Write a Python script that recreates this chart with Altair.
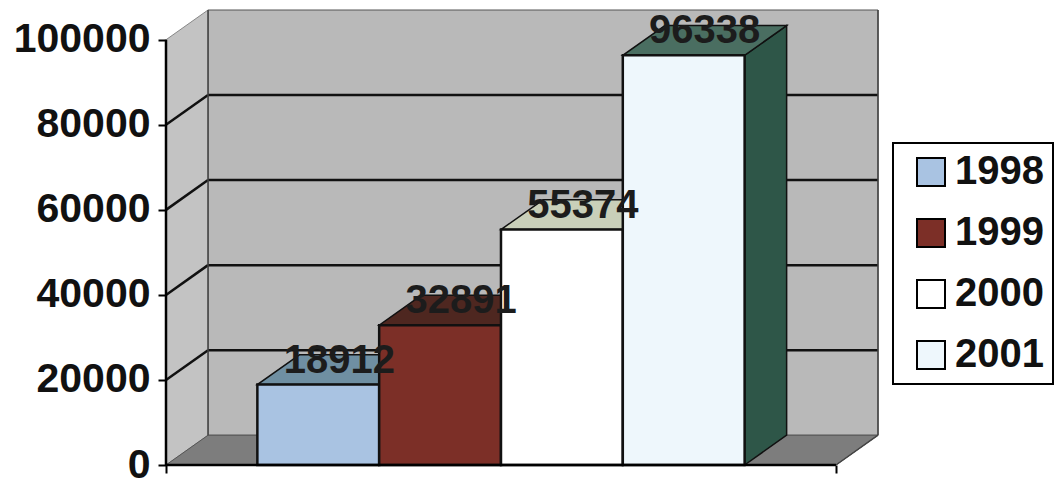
import altair as alt
import pandas as pd

# ---- data ----
years = ["1998", "1999", "2000", "2001"]
values = [18912, 32891, 55374, 96338]
y_ticks = [0, 20000, 40000, 60000, 80000, 100000]
grid_values = [20000, 40000, 60000, 80000]

# ---- palette ----
front_colors = ["#a9c3e2", "#7c2f27", "#ffffff", "#eef7fc"]
top_colors = ["#6f8fa2", "#4e2720", "#c9cfb9", "#4a6e61"]
side_colors = ["#5a7c90", "#5a2a22", "#bfc4ae", "#2e5648"]
WALL = "#b9b9b9"
SIDE_WALL = "#c3c3c3"
FLOOR_C = "#7d7d7d"
FONT = "Liberation Sans"

# ---- 3D geometry in data units ----
GAP = 0.75                      # half of Excel's 150% gap width
DX = 0.345                      # depth offset, x units
DY = 7000                       # depth offset, y units
FLOOR = 2 * GAP + len(years)
TOP = 100000

xs = alt.Scale(domain=[0, FLOOR + DX], nice=False, zero=False)
ys = alt.Scale(domain=[0, TOP + DY], nice=False, zero=False)
xaxis = alt.Axis(values=[0, FLOOR], labels=False, tickSize=8, tickWidth=2,
                 tickColor="black", domain=False, grid=False, title=None)
yaxis = alt.Axis(values=y_ticks, tickSize=8, tickWidth=2, tickColor="black",
                 domain=False, grid=False, title=None, labelFontSize=41,
                 labelFont=FONT, labelFontWeight="bold", labelColor="#111111",
                 labelPadding=8, format="d")

rows = []
for i, (yr, v) in enumerate(zip(years, values)):
    x0 = GAP + i
    x1 = x0 + 1
    rows.append(dict(year=yr, value=v, x0=x0, x1=x1, zero=0,
                     lx=(x0 + x1) / 2 + DX / 2, ly=v + DY / 2,
                     front=front_colors[i], top=top_colors[i], side=side_colors[i]))
bars = pd.DataFrame(rows)

side_rows, top_rows = [], []
for r in rows:
    side_rows += [dict(id=r["year"], c=r["side"], x=r["x1"], y=0, y2=r["value"]),
                  dict(id=r["year"], c=r["side"], x=r["x1"] + DX, y=DY, y2=r["value"] + DY)]
    top_rows += [dict(id=r["year"], c=r["top"], y=r["value"], x=r["x0"], x2=r["x1"]),
                 dict(id=r["year"], c=r["top"], y=r["value"] + DY, x=r["x0"] + DX, x2=r["x1"] + DX)]
sides = pd.DataFrame(side_rows)
tops = pd.DataFrame(top_rows)

left_wall = pd.DataFrame([dict(x=0, y=0, y2=TOP), dict(x=DX, y=DY, y2=TOP + DY)])
floor = pd.DataFrame([dict(y=0, x=0, x2=FLOOR), dict(y=DY, x=DX, x2=FLOOR + DX)])
back = pd.DataFrame([dict(x=DX, x2=FLOOR + DX, y=DY, y2=TOP + DY)])
grid = pd.DataFrame([dict(v=g, vb=g + DY, xl=0, xb=DX, xr=FLOOR + DX) for g in grid_values])
edges = pd.DataFrame([dict(x=DX, x2=DX, y=DY, y2=TOP + DY),
                      dict(x=FLOOR + DX, x2=FLOOR + DX, y=DY, y2=TOP + DY),
                      dict(x=FLOOR, x2=FLOOR + DX, y=0, y2=DY)])
axis_line = pd.DataFrame([dict(x=0, x2=0, y=0, y2=TOP), dict(x=0, x2=FLOOR, y=0, y2=0)])


def X(f):
    return alt.X(f, scale=xs, axis=xaxis, stack=None)


def Y(f):
    return alt.Y(f, scale=ys, axis=yaxis, stack=None)


back_l = alt.Chart(back).mark_rect(fill=WALL, stroke="#555555", strokeWidth=1).encode(
    x=X("x:Q"), x2="x2:Q", y=Y("y:Q"), y2="y2:Q")
left_l = alt.Chart(left_wall).mark_area(fill=SIDE_WALL, stroke="#888888", strokeWidth=1).encode(
    x=X("x:Q"), y=Y("y:Q"), y2="y2:Q")
floor_l = alt.Chart(floor).mark_area(orient="horizontal", fill=FLOOR_C, stroke="#555555",
                                     strokeWidth=1).encode(
    y=Y("y:Q"), x=X("x:Q"), x2="x2:Q")
grid_back = alt.Chart(grid).mark_rule(color="#111111", strokeWidth=2.5).encode(
    x=X("xb:Q"), x2="xr:Q", y=Y("vb:Q"), y2="vb:Q")
grid_left = alt.Chart(grid).mark_rule(color="#111111", strokeWidth=2.5).encode(
    x=X("xl:Q"), x2="xb:Q", y=Y("v:Q"), y2="vb:Q")
edge_l = alt.Chart(edges).mark_rule(color="#444444", strokeWidth=1.5).encode(
    x=X("x:Q"), x2="x2:Q", y=Y("y:Q"), y2="y2:Q")
side_l = alt.Chart(sides).mark_area(stroke="#111111", strokeWidth=1.5).encode(
    x=X("x:Q"), y=Y("y:Q"), y2="y2:Q", detail="id:N", fill=alt.Fill("c:N", scale=None))
top_l = alt.Chart(tops).mark_area(orient="horizontal", stroke="#111111", strokeWidth=1.5).encode(
    y=Y("y:Q"), x=X("x:Q"), x2="x2:Q", detail="id:N", fill=alt.Fill("c:N", scale=None))
front_l = alt.Chart(bars).mark_rect(stroke="#111111", strokeWidth=2.5).encode(
    x=X("x0:Q"), x2="x1:Q", y=Y("zero:Q"), y2="value:Q",
    color=alt.Color("year:N", scale=alt.Scale(domain=years, range=front_colors),
                    legend=alt.Legend(orient="none", legendX=727, legendY=133, title=None,
                                      symbolType="square", symbolSize=784,
                                      symbolStrokeColor="black", symbolStrokeWidth=2,
                                      labelFontSize=40, labelFont=FONT,
                                      labelFontWeight="bold", labelColor="#111111",
                                      strokeColor="black", fillColor="white",
                                      padding=9, rowPadding=21, labelOffset=4,
                                      symbolOffset=9)))
label_l = alt.Chart(bars).mark_text(font=FONT, fontSize=40, fontWeight="bold",
                                    color="#1c1c1c", baseline="alphabetic", dy=3).encode(
    x=X("lx:Q"), y=Y("ly:Q"), text=alt.Text("value:Q", format="d"))
axis_l = alt.Chart(axis_line).mark_rule(color="black", strokeWidth=2.5).encode(
    x=X("x:Q"), x2="x2:Q", y=Y("y:Q"), y2="y2:Q")

chart = alt.layer(back_l, left_l, floor_l, grid_back, grid_left, edge_l,
                  side_l, top_l, front_l, label_l, axis_l).properties(
    width=712, height=455,
    padding={"left": 166, "top": 10, "right": 184, "bottom": 22},
    autosize=alt.AutoSizeParams(type="none"),
    background="white",
).configure_view(stroke=None).configure_legend(strokeWidth=2)

chart.save("out.html", embed_options={"renderer": "svg", "actions": False})
